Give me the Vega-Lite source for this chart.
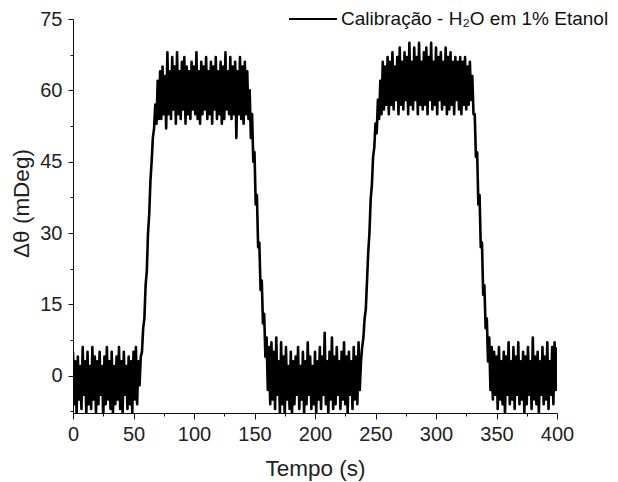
{
  "$schema": "https://vega.github.io/schema/vega-lite/v6.json",
  "autosize": {"type": "none"},
  "padding": {"left": 73, "top": 19, "right": 61, "bottom": 69},
  "width": 484,
  "height": 394,
  "background": "white",
  "config": {"view": {"stroke": null}, "font": "Liberation Sans"},
  "data": {"values": [
{"t":0,"v":5},{"t":1,"v":-6},{"t":2,"v":3},{"t":3,"v":-8},{"t":4,"v":4},{"t":5,"v":-5},{"t":6,"v":2},{"t":7,"v":-7},{"t":8,"v":6},{"t":9,"v":-4},
{"t":10,"v":3},{"t":11,"v":-8},{"t":12,"v":5},{"t":13,"v":-6},{"t":14,"v":2},{"t":15,"v":-7},{"t":16,"v":6},{"t":17,"v":-5},{"t":18,"v":4},{"t":19,"v":-8},
{"t":20,"v":3},{"t":21,"v":-6},{"t":22,"v":5},{"t":23,"v":-4},{"t":24,"v":2},{"t":25,"v":-9},{"t":26,"v":4},{"t":27,"v":-6},{"t":28,"v":6},{"t":29,"v":-5},
{"t":30,"v":3},{"t":31,"v":-7},{"t":32,"v":5},{"t":33,"v":-8},{"t":34,"v":2},{"t":35,"v":-6},{"t":36,"v":4},{"t":37,"v":-5},{"t":38,"v":6},{"t":39,"v":-7},
{"t":40,"v":3},{"t":41,"v":-8},{"t":42,"v":5},{"t":43,"v":-4},{"t":44,"v":2},{"t":45,"v":-7},{"t":46,"v":4},{"t":47,"v":-6},{"t":48,"v":3},{"t":49,"v":-8},
{"t":50,"v":5},{"t":51,"v":-5},{"t":52,"v":6},{"t":53,"v":-6},{"t":54,"v":3},{"t":55,"v":-2},{"t":56,"v":4},{"t":57,"v":5},{"t":58,"v":10},{"t":59,"v":12},
{"t":60,"v":19},{"t":61,"v":22},{"t":62,"v":30},{"t":63,"v":34},{"t":64,"v":41},{"t":65,"v":45},{"t":66,"v":50},{"t":67,"v":52},{"t":68,"v":57},{"t":69,"v":53},
{"t":70,"v":62},{"t":71,"v":54},{"t":72,"v":64},{"t":73,"v":54},{"t":74,"v":65},{"t":75,"v":55},{"t":76,"v":63},{"t":77,"v":52},{"t":78,"v":68},{"t":79,"v":55},
{"t":80,"v":64},{"t":81,"v":54},{"t":82,"v":67},{"t":83,"v":56},{"t":84,"v":65},{"t":85,"v":53},{"t":86,"v":68},{"t":87,"v":55},{"t":88,"v":64},{"t":89,"v":54},
{"t":90,"v":66},{"t":91,"v":56},{"t":92,"v":67},{"t":93,"v":53},{"t":94,"v":65},{"t":95,"v":55},{"t":96,"v":64},{"t":97,"v":54},{"t":98,"v":66},{"t":99,"v":56},
{"t":100,"v":65},{"t":101,"v":55},{"t":102,"v":68},{"t":103,"v":54},{"t":104,"v":64},{"t":105,"v":53},{"t":106,"v":66},{"t":107,"v":55},{"t":108,"v":65},{"t":109,"v":56},
{"t":110,"v":67},{"t":111,"v":54},{"t":112,"v":64},{"t":113,"v":55},{"t":114,"v":66},{"t":115,"v":53},{"t":116,"v":65},{"t":117,"v":56},{"t":118,"v":67},{"t":119,"v":54},
{"t":120,"v":64},{"t":121,"v":55},{"t":122,"v":66},{"t":123,"v":53},{"t":124,"v":65},{"t":125,"v":54},{"t":126,"v":68},{"t":127,"v":56},{"t":128,"v":64},{"t":129,"v":55},
{"t":130,"v":67},{"t":131,"v":54},{"t":132,"v":65},{"t":133,"v":55},{"t":134,"v":66},{"t":135,"v":50},{"t":136,"v":64},{"t":137,"v":55},{"t":138,"v":67},{"t":139,"v":54},
{"t":140,"v":65},{"t":141,"v":53},{"t":142,"v":66},{"t":143,"v":55},{"t":144,"v":64},{"t":145,"v":54},{"t":146,"v":60},{"t":147,"v":50},{"t":148,"v":55},{"t":149,"v":45},
{"t":150,"v":47},{"t":151,"v":36},{"t":152,"v":38},{"t":153,"v":27},{"t":154,"v":28},{"t":155,"v":18},{"t":156,"v":20},{"t":157,"v":11},{"t":158,"v":13},{"t":159,"v":4},
{"t":160,"v":8},{"t":161,"v":-3},{"t":162,"v":6},{"t":163,"v":-6},{"t":164,"v":7},{"t":165,"v":-5},{"t":166,"v":5},{"t":167,"v":-7},{"t":168,"v":8},{"t":169,"v":-4},
{"t":170,"v":3},{"t":171,"v":-8},{"t":172,"v":7},{"t":173,"v":-6},{"t":174,"v":4},{"t":175,"v":-9},{"t":176,"v":6},{"t":177,"v":-5},{"t":178,"v":2},{"t":179,"v":-7},
{"t":180,"v":5},{"t":181,"v":-8},{"t":182,"v":3},{"t":183,"v":-6},{"t":184,"v":4},{"t":185,"v":-4},{"t":186,"v":6},{"t":187,"v":-7},{"t":188,"v":2},{"t":189,"v":-5},
{"t":190,"v":5},{"t":191,"v":-8},{"t":192,"v":3},{"t":193,"v":-6},{"t":194,"v":7},{"t":195,"v":-4},{"t":196,"v":4},{"t":197,"v":-7},{"t":198,"v":2},{"t":199,"v":-6},
{"t":200,"v":5},{"t":201,"v":-8},{"t":202,"v":3},{"t":203,"v":-5},{"t":204,"v":6},{"t":205,"v":-7},{"t":206,"v":4},{"t":207,"v":-4},{"t":208,"v":9},{"t":209,"v":-6},
{"t":210,"v":3},{"t":211,"v":-8},{"t":212,"v":5},{"t":213,"v":-5},{"t":214,"v":8},{"t":215,"v":-7},{"t":216,"v":4},{"t":217,"v":-6},{"t":218,"v":6},{"t":219,"v":-4},
{"t":220,"v":3},{"t":221,"v":-7},{"t":222,"v":5},{"t":223,"v":-5},{"t":224,"v":7},{"t":225,"v":-6},{"t":226,"v":4},{"t":227,"v":-8},{"t":228,"v":5},{"t":229,"v":-4},
{"t":230,"v":3},{"t":231,"v":-7},{"t":232,"v":6},{"t":233,"v":-5},{"t":234,"v":4},{"t":235,"v":-6},{"t":236,"v":7},{"t":237,"v":-3},{"t":238,"v":3},{"t":239,"v":6},
{"t":240,"v":8},{"t":241,"v":12},{"t":242,"v":14},{"t":243,"v":20},{"t":244,"v":26},{"t":245,"v":30},{"t":246,"v":37},{"t":247,"v":40},{"t":248,"v":46},{"t":249,"v":48},
{"t":250,"v":53},{"t":251,"v":51},{"t":252,"v":58},{"t":253,"v":54},{"t":254,"v":62},{"t":255,"v":55},{"t":256,"v":66},{"t":257,"v":56},{"t":258,"v":65},{"t":259,"v":57},
{"t":260,"v":67},{"t":261,"v":55},{"t":262,"v":66},{"t":263,"v":57},{"t":264,"v":68},{"t":265,"v":56},{"t":266,"v":65},{"t":267,"v":58},{"t":268,"v":67},{"t":269,"v":55},
{"t":270,"v":69},{"t":271,"v":57},{"t":272,"v":66},{"t":273,"v":56},{"t":274,"v":68},{"t":275,"v":58},{"t":276,"v":67},{"t":277,"v":55},{"t":278,"v":70},{"t":279,"v":57},
{"t":280,"v":66},{"t":281,"v":56},{"t":282,"v":69},{"t":283,"v":58},{"t":284,"v":67},{"t":285,"v":55},{"t":286,"v":70},{"t":287,"v":57},{"t":288,"v":66},{"t":289,"v":56},
{"t":290,"v":68},{"t":291,"v":57},{"t":292,"v":69},{"t":293,"v":55},{"t":294,"v":67},{"t":295,"v":58},{"t":296,"v":70},{"t":297,"v":56},{"t":298,"v":66},{"t":299,"v":57},
{"t":300,"v":69},{"t":301,"v":55},{"t":302,"v":67},{"t":303,"v":58},{"t":304,"v":68},{"t":305,"v":56},{"t":306,"v":66},{"t":307,"v":57},{"t":308,"v":69},{"t":309,"v":55},
{"t":310,"v":67},{"t":311,"v":56},{"t":312,"v":68},{"t":313,"v":57},{"t":314,"v":66},{"t":315,"v":55},{"t":316,"v":67},{"t":317,"v":58},{"t":318,"v":66},{"t":319,"v":56},
{"t":320,"v":67},{"t":321,"v":55},{"t":322,"v":66},{"t":323,"v":57},{"t":324,"v":67},{"t":325,"v":56},{"t":326,"v":65},{"t":327,"v":57},{"t":328,"v":66},{"t":329,"v":58},
{"t":330,"v":63},{"t":331,"v":55},{"t":332,"v":55},{"t":333,"v":46},{"t":334,"v":47},{"t":335,"v":36},{"t":336,"v":38},{"t":337,"v":27},{"t":338,"v":28},{"t":339,"v":17},
{"t":340,"v":19},{"t":341,"v":10},{"t":342,"v":12},{"t":343,"v":3},{"t":344,"v":8},{"t":345,"v":-3},{"t":346,"v":6},{"t":347,"v":-5},{"t":348,"v":5},{"t":349,"v":-4},
{"t":350,"v":4},{"t":351,"v":-7},{"t":352,"v":6},{"t":353,"v":-5},{"t":354,"v":3},{"t":355,"v":-6},{"t":356,"v":5},{"t":357,"v":-8},{"t":358,"v":4},{"t":359,"v":-4},
{"t":360,"v":7},{"t":361,"v":-6},{"t":362,"v":3},{"t":363,"v":-5},{"t":364,"v":6},{"t":365,"v":-7},{"t":366,"v":4},{"t":367,"v":-4},{"t":368,"v":7},{"t":369,"v":-6},
{"t":370,"v":3},{"t":371,"v":-5},{"t":372,"v":5},{"t":373,"v":-8},{"t":374,"v":4},{"t":375,"v":-6},{"t":376,"v":6},{"t":377,"v":-4},{"t":378,"v":3},{"t":379,"v":-7},
{"t":380,"v":8},{"t":381,"v":-5},{"t":382,"v":4},{"t":383,"v":-6},{"t":384,"v":5},{"t":385,"v":-8},{"t":386,"v":3},{"t":387,"v":-4},{"t":388,"v":6},{"t":389,"v":-6},
{"t":390,"v":4},{"t":391,"v":-5},{"t":392,"v":7},{"t":393,"v":-7},{"t":394,"v":3},{"t":395,"v":-4},{"t":396,"v":6},{"t":397,"v":-6},{"t":398,"v":7},{"t":399,"v":-3},
{"t":400,"v":6}
  ]},
  "mark": {"type": "line", "strokeWidth": 2.6, "strokeJoin": "round", "clip": true},
  "encoding": {
    "x": {
      "field": "t", "type": "quantitative",
      "scale": {"domain": [0, 400], "nice": false, "zero": false},
      "axis": {
        "title": "Tempo (s)",
        "values": [0, 25, 50, 75, 100, 125, 150, 175, 200, 225, 250, 275, 300, 325, 350, 375, 400],
        "labelExpr": "datum.value % 50 === 0 ? datum.label : ''",
        "tickSize": {"condition": {"test": "datum.value % 50 === 0", "value": 6}, "value": 3},
        "grid": false,
        "domainColor": "#111", "tickColor": "#111",
        "labelColor": "#222", "titleColor": "#222",
        "labelFontSize": 20, "titleFontSize": 22.5, "titleFontWeight": "normal",
        "labelPadding": 5, "titlePadding": 13,
        "labelFlush": false, "labelOverlap": false
      }
    },
    "y": {
      "field": "v", "type": "quantitative",
      "scale": {"domain": [-7.85, 75], "nice": false, "zero": false},
      "axis": {
        "title": "Δθ (mDeg)",
        "titleY": 184,
        "values": [-7.5, 0, 7.5, 15, 22.5, 30, 37.5, 45, 52.5, 60, 67.5, 75],
        "labelExpr": "datum.value % 15 === 0 ? datum.label : ''",
        "tickSize": {"condition": {"test": "datum.value % 15 === 0", "value": 5}, "value": 3},
        "grid": false,
        "domainColor": "#111", "tickColor": "#111",
        "labelColor": "#222", "titleColor": "#222",
        "labelFontSize": 20, "titleFontSize": 22.5, "titleFontWeight": "normal",
        "labelPadding": 6, "titlePadding": 6,
        "labelFlush": false, "labelOverlap": false
      }
    },
    "color": {
      "datum": "Calibração - H₂O em 1% Etanol",
      "type": "nominal",
      "scale": {"range": ["#000000"]},
      "legend": {
        "title": null,
        "orient": "none",
        "legendX": 215,
        "legendY": -25,
        "symbolType": "stroke",
        "symbolSize": 2304,
        "symbolStrokeWidth": 2,
        "symbolStrokeColor": "#000000",
        "labelFontSize": 19,
        "labelColor": "#111",
        "labelOffset": 3,
        "labelLimit": 400,
        "padding": 0
      }
    }
  }
}
